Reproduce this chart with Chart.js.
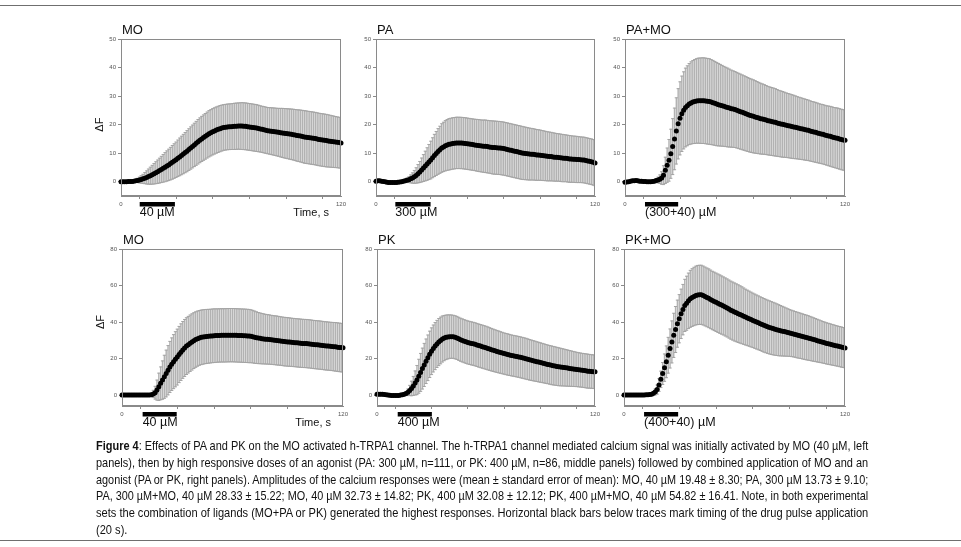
<!DOCTYPE html>
<html>
<head>
<meta charset="utf-8">
<script src="https://cdn.jsdelivr.net/npm/chart.js@4.4.0/dist/chart.umd.min.js"></script>
<style>
    body { margin: 0; background: #fff; width: 961px; height: 547px; position: relative; overflow: hidden; font-family: "Liberation Sans", Arial, sans-serif; }
    .rule { position: absolute; left: 0; width: 961px; height: 1px; background: #6f6f6f; }
    canvas { position: absolute; }
    #caption { position: absolute; left: 96px; top: 438px; width: 772px; font-family: "Liberation Sans", Arial, sans-serif; font-size: 13px; line-height: 16.8px; color: #111; }
    #caption div { height: 16.8px; white-space: nowrap; }
    #caption span { display: inline-block; white-space: nowrap; transform-origin: 0 50%; }
</style>
</head>
<body>
<div class="rule" style="top:5px"></div>
<div class="rule" style="top:540px"></div>

<canvas id="p0"></canvas>
<canvas id="p1"></canvas>
<canvas id="p2"></canvas>
<canvas id="p3"></canvas>
<canvas id="p4"></canvas>
<canvas id="p5"></canvas>

<div id="caption">
    <div><span><b>Figure 4</b>: Effects of PA and PK on the MO activated h-TRPA1 channel. The h-TRPA1 channel mediated calcium signal was initially activated by MO (40 µM, left</span></div>
    <div><span>panels), then by high responsive doses of an agonist (PA: 300 µM, n=111, or PK: 400 µM, n=86, middle panels) followed by combined application of MO and an</span></div>
    <div><span>agonist (PA or PK, right panels). Amplitudes of the calcium responses were (mean ± standard error of mean): MO, 40 µM 19.48 ± 8.30; PA, 300 µM 13.73 ± 9.10;</span></div>
    <div><span>PA, 300 µM+MO, 40 µM 28.33 ± 15.22; MO, 40 µM 32.73 ± 14.82; PK, 400 µM 32.08 ± 12.12; PK, 400 µM+MO, 40 µM 54.82 ± 16.41. Note, in both experimental</span></div>
    <div><span>sets the combination of ligands (MO+PA or PK) generated the highest responses. Horizontal black bars below traces mark timing of the drug pulse application</span></div>
    <div><span class="last">(20 s).</span></div>
</div>

<script>
// Time points (s)
const timeS = [0, 1, 2, 3, 4, 5, 6, 7, 8, 9,
    10, 11, 12, 13, 14, 15, 16, 17, 18, 19,
    20, 21, 22, 23, 24, 25, 26, 27, 28, 29,
    30, 31, 32, 33, 34, 35, 36, 37, 38, 39,
    40, 41, 42, 43, 44, 45, 46, 47, 48, 49,
    50, 51, 52, 53, 54, 55, 56, 57, 58, 59,
    60, 61, 62, 63, 64, 65, 66, 67, 68, 69,
    70, 71, 72, 73, 74, 75, 76, 77, 78, 79,
    80, 81, 82, 83, 84, 85, 86, 87, 88, 89,
    90, 91, 92, 93, 94, 95, 96, 97, 98, 99,
    100, 101, 102, 103, 104, 105, 106, 107, 108, 109,
    110, 111, 112, 113, 114, 115, 116, 117, 118, 119,
    120];

// MO 40 uM (top row)
const moTopMean = [0, 0, 0, 0, 0.05, 0.05, 0.1, 0.2, 0.3, 0.45,
    0.6, 0.8, 1.0, 1.25, 1.5, 1.8, 2.1, 2.45, 2.8, 3.15,
    3.5, 3.9, 4.3, 4.7, 5.1, 5.5, 5.9, 6.35, 6.8, 7.25,
    7.7, 8.2, 8.7, 9.2, 9.7, 10.2, 10.7, 11.25, 11.8, 12.35,
    12.9, 13.45, 14.0, 14.5, 15.0, 15.45, 15.9, 16.35, 16.8, 17.15,
    17.5, 17.8, 18.1, 18.35, 18.6, 18.8, 19.0, 19.1, 19.2, 19.25,
    19.3, 19.35, 19.4, 19.45, 19.5, 19.5, 19.5, 19.45, 19.4, 19.3,
    19.2, 19.1, 19.0, 18.9, 18.8, 18.65, 18.5, 18.35, 18.2, 18.05,
    17.9, 17.8, 17.7, 17.6, 17.5, 17.4, 17.3, 17.2, 17.1, 17.0,
    16.9, 16.8, 16.7, 16.6, 16.5, 16.35, 16.2, 16.1, 16.0, 15.85,
    15.7, 15.6, 15.5, 15.4, 15.3, 15.2, 15.1, 14.95, 14.8, 14.7,
    14.6, 14.5, 14.4, 14.3, 14.2, 14.1, 14.0, 13.9, 13.8, 13.7,
    13.6];
const moTopSem = [0, 0, 0, 0, 0, 0.1, 0.2, 0.35, 0.5, 0.75,
    1.0, 1.3, 1.6, 1.95, 2.3, 2.65, 3.0, 3.3, 3.6, 3.85,
    4.1, 4.35, 4.6, 4.85, 5.1, 5.3, 5.5, 5.7, 5.9, 6.05,
    6.2, 6.4, 6.6, 6.75, 6.9, 7.05, 7.2, 7.3, 7.4, 7.5,
    7.6, 7.7, 7.8, 7.85, 7.9, 7.95, 8.0, 8.05, 8.1, 8.1,
    8.1, 8.1, 8.1, 8.1, 8.1, 8.05, 8.0, 8.0, 8.0, 8.0,
    8.0, 8.05, 8.1, 8.1, 8.1, 8.15, 8.2, 8.2, 8.2, 8.2,
    8.2, 8.2, 8.2, 8.2, 8.2, 8.15, 8.1, 8.1, 8.1, 8.1,
    8.1, 8.15, 8.2, 8.25, 8.3, 8.35, 8.4, 8.5, 8.6, 8.65,
    8.7, 8.75, 8.8, 8.85, 8.9, 8.95, 9.0, 9.05, 9.1, 9.15,
    9.2, 9.2, 9.2, 9.2, 9.2, 9.2, 9.2, 9.2, 9.2, 9.2,
    9.2, 9.2, 9.2, 9.15, 9.1, 9.05, 9.0, 8.95, 8.9, 8.9,
    8.9];

// PA 300 uM
const paMean = [0.2, 0.3, 0.3, 0.2, 0.1, -0.05, -0.2, -0.25, -0.3, -0.3,
    -0.3, -0.25, -0.2, -0.1, 0, 0.15, 0.3, 0.5, 0.7, 1.0,
    1.3, 1.7, 2.2, 2.8, 3.4, 4.1, 4.8, 5.5, 6.2, 6.9,
    7.6, 8.4, 9.2, 9.9, 10.6, 11.2, 11.8, 12.2, 12.6, 12.9,
    13.1, 13.25, 13.4, 13.5, 13.6, 13.6, 13.6, 13.55, 13.5, 13.4,
    13.3, 13.2, 13.1, 13.0, 12.9, 12.8, 12.7, 12.6, 12.5, 12.45,
    12.4, 12.3, 12.2, 12.1, 12.0, 11.95, 11.9, 11.85, 11.8, 11.7,
    11.6, 11.45, 11.3, 11.15, 11.0, 10.85, 10.7, 10.55, 10.4, 10.25,
    10.1, 10.0, 9.9, 9.8, 9.7, 9.65, 9.6, 9.5, 9.4, 9.35,
    9.3, 9.2, 9.1, 9.0, 8.9, 8.85, 8.8, 8.7, 8.6, 8.55,
    8.5, 8.4, 8.3, 8.25, 8.2, 8.1, 8.0, 7.95, 7.9, 7.85,
    7.8, 7.75, 7.7, 7.65, 7.6, 7.45, 7.3, 7.15, 7.0, 6.8,
    6.6];
const paSem = [0, 0, 0, 0, 0, 0, 0, 0, 0, 0,
    0, 0.05, 0.1, 0.2, 0.3, 0.45, 0.6, 0.8, 1.0, 1.4,
    1.8, 2.25, 2.7, 3.2, 3.7, 4.2, 4.7, 5.2, 5.7, 6.15,
    6.6, 7.0, 7.4, 7.7, 8.0, 8.25, 8.5, 8.65, 8.8, 8.9,
    9.0, 9.0, 9.0, 9.0, 9.0, 9.0, 9.0, 9.0, 9.0, 9.0,
    9.0, 9.0, 9.0, 9.0, 9.0, 9.05, 9.1, 9.1, 9.1, 9.15,
    9.2, 9.2, 9.2, 9.25, 9.3, 9.3, 9.3, 9.3, 9.3, 9.3,
    9.3, 9.3, 9.3, 9.3, 9.3, 9.3, 9.3, 9.3, 9.3, 9.3,
    9.3, 9.25, 9.2, 9.15, 9.1, 9.05, 9.0, 8.95, 8.9, 8.85,
    8.8, 8.75, 8.7, 8.65, 8.6, 8.55, 8.5, 8.45, 8.4, 8.35,
    8.3, 8.3, 8.3, 8.25, 8.2, 8.2, 8.2, 8.15, 8.1, 8.1,
    8.1, 8.05, 8.0, 8.0, 8.0, 8.0, 8.0, 8.0, 8.0, 8.0,
    8.0];

// PA + MO
const paMoMean = [-0.2, -0.1, 0.0, 0.15, 0.3, 0.35, 0.4, 0.3, 0.2, 0.15,
    0.1, 0.05, 0.0, 0.0, 0.0, 0.1, 0.2, 0.4, 0.6, 0.9,
    1.3, 2.3, 4.0, 5.8, 7.5, 9.8, 12.3, 15.0, 17.8, 20.3,
    22.2, 23.8, 25.0, 26.0, 26.6, 27.2, 27.6, 27.9, 28.1, 28.3,
    28.4, 28.4, 28.4, 28.4, 28.3, 28.2, 28.1, 27.9, 27.7, 27.45,
    27.2, 27.0, 26.8, 26.6, 26.4, 26.2, 26.0, 25.8, 25.6, 25.45,
    25.3, 25.05, 24.8, 24.55, 24.3, 24.05, 23.8, 23.55, 23.3, 23.1,
    22.9, 22.7, 22.5, 22.3, 22.1, 21.95, 21.8, 21.6, 21.4, 21.25,
    21.1, 20.95, 20.8, 20.6, 20.4, 20.25, 20.1, 19.95, 19.8, 19.65,
    19.5, 19.35, 19.2, 19.05, 18.9, 18.75, 18.6, 18.45, 18.3, 18.15,
    18.0, 17.8, 17.6, 17.45, 17.3, 17.1, 16.9, 16.75, 16.6, 16.4,
    16.2, 16.05, 15.9, 15.7, 15.5, 15.35, 15.2, 15.0, 14.8, 14.65,
    14.5];
const paMoSem = [0, 0, 0, 0, 0, 0, 0, 0, 0, 0,
    0, 0, 0, 0, 0.1, 0.2, 0.4, 0.7, 1.0, 1.5,
    2.2, 3.3, 4.6, 6.0, 7.3, 8.6, 9.8, 10.8, 11.6, 12.3,
    12.8, 13.2, 13.5, 13.8, 14.0, 14.2, 14.4, 14.55, 14.7, 14.8,
    14.9, 14.95, 15.0, 15.0, 15.0, 15.0, 15.0, 14.9, 14.8, 14.7,
    14.6, 14.45, 14.3, 14.15, 14.0, 13.9, 13.8, 13.65, 13.5, 13.4,
    13.3, 13.25, 13.2, 13.15, 13.1, 13.05, 13.0, 12.95, 12.9, 12.85,
    12.8, 12.7, 12.6, 12.5, 12.4, 12.3, 12.2, 12.1, 12.0, 11.95,
    11.9, 11.85, 11.8, 11.7, 11.6, 11.55, 11.5, 11.4, 11.3, 11.25,
    11.2, 11.15, 11.1, 11.0, 10.9, 10.85, 10.8, 10.75, 10.7, 10.65,
    10.6, 10.55, 10.5, 10.5, 10.5, 10.45, 10.4, 10.4, 10.4, 10.4,
    10.4, 10.45, 10.5, 10.5, 10.5, 10.55, 10.6, 10.6, 10.6, 10.6,
    10.6];

// MO 40 uM (bottom row)
const moBotMean = [0, 0, 0, 0, 0, 0, 0, 0, 0, 0,
    0, 0, 0, 0, 0, 0, 0.2, 0.6, 1.3, 2.7,
    4.5, 6.4, 8.2, 10.0, 11.8, 13.6, 15.4, 16.9, 18.3, 19.6,
    20.8, 22.2, 23.5, 24.7, 25.8, 26.8, 27.6, 28.4, 29.1, 29.8,
    30.4, 30.9, 31.3, 31.6, 31.8, 32.0, 32.1, 32.2, 32.3, 32.4,
    32.5, 32.55, 32.6, 32.65, 32.7, 32.7, 32.7, 32.75, 32.8, 32.8,
    32.8, 32.75, 32.7, 32.65, 32.6, 32.55, 32.5, 32.45, 32.4, 32.3,
    32.2, 32.0, 31.7, 31.45, 31.2, 31.05, 30.9, 30.75, 30.6, 30.5,
    30.4, 30.25, 30.1, 30.0, 29.9, 29.75, 29.6, 29.45, 29.3, 29.2,
    29.1, 29.0, 28.9, 28.8, 28.7, 28.6, 28.5, 28.4, 28.3, 28.25,
    28.2, 28.1, 28.0, 27.85, 27.7, 27.6, 27.5, 27.4, 27.3, 27.15,
    27.0, 26.9, 26.8, 26.7, 26.6, 26.5, 26.4, 26.25, 26.1, 26.0,
    25.9];
const moBotSem = [0, 0, 0, 0, 0, 0, 0, 0, 0, 0,
    0, 0, 0, 0, 0, 0.2, 0.8, 2.0, 3.5, 5.5,
    7.5, 9.0, 10.5, 11.8, 12.8, 13.5, 14.0, 14.4, 14.8, 15.1,
    15.3, 15.4, 15.5, 15.55, 15.6, 15.55, 15.5, 15.45, 15.4, 15.3,
    15.2, 15.1, 15.0, 14.95, 14.9, 14.85, 14.8, 14.75, 14.7, 14.7,
    14.7, 14.65, 14.6, 14.6, 14.6, 14.6, 14.6, 14.6, 14.6, 14.6,
    14.6, 14.6, 14.6, 14.6, 14.6, 14.6, 14.6, 14.6, 14.6, 14.6,
    14.5, 14.4, 14.3, 14.15, 14.0, 13.9, 13.8, 13.7, 13.6, 13.55,
    13.5, 13.45, 13.4, 13.4, 13.4, 13.35, 13.3, 13.3, 13.3, 13.3,
    13.3, 13.25, 13.2, 13.2, 13.2, 13.2, 13.2, 13.2, 13.2, 13.2,
    13.2, 13.2, 13.2, 13.2, 13.2, 13.2, 13.2, 13.2, 13.2, 13.2,
    13.2, 13.2, 13.2, 13.2, 13.2, 13.25, 13.3, 13.3, 13.3, 13.3,
    13.3];

// PK 400 uM
const pkMean = [0.5, 0.5, 0.5, 0.4, 0.3, 0.15, 0.0, -0.15, -0.3, -0.3,
    -0.3, -0.25, -0.2, 0.0, 0.2, 0.5, 0.8, 1.5, 2.5, 3.6,
    5.0, 6.6, 8.2, 10.3, 12.4, 14.5, 16.5, 18.5, 20.4, 22.3,
    24.0, 25.5, 26.8, 28.0, 29.0, 29.9, 30.7, 31.2, 31.6, 31.85,
    32.0, 32.0, 31.9, 31.65, 31.3, 30.8, 30.3, 29.9, 29.5, 29.15,
    28.8, 28.55, 28.3, 28.05, 27.8, 27.45, 27.1, 26.8, 26.5, 26.2,
    25.9, 25.55, 25.2, 24.85, 24.5, 24.2, 23.9, 23.6, 23.3, 23.0,
    22.7, 22.45, 22.2, 21.95, 21.7, 21.5, 21.3, 21.1, 20.9, 20.65,
    20.4, 20.15, 19.9, 19.6, 19.3, 19.05, 18.8, 18.55, 18.3, 18.05,
    17.8, 17.55, 17.3, 17.05, 16.8, 16.55, 16.3, 16.1, 15.9, 15.7,
    15.5, 15.35, 15.2, 15.05, 14.9, 14.75, 14.6, 14.45, 14.3, 14.15,
    14.0, 13.85, 13.7, 13.55, 13.4, 13.25, 13.1, 13.0, 12.9, 12.8,
    12.7];
const pkSem = [0, 0, 0, 0, 0, 0, 0, 0, 0, 0,
    0, 0, 0, 0.1, 0.3, 0.6, 1.0, 1.8, 2.8, 4.0,
    5.2, 6.6, 8.0, 9.3, 10.4, 11.2, 11.8, 12.2, 12.5, 12.7,
    12.8, 12.85, 12.9, 12.9, 12.9, 12.8, 12.6, 12.4, 12.2, 12.05,
    11.9, 11.85, 11.8, 11.8, 11.8, 11.8, 11.8, 11.8, 11.8, 11.8,
    11.8, 11.8, 11.8, 11.8, 11.8, 11.8, 11.8, 11.8, 11.8, 11.8,
    11.8, 11.75, 11.7, 11.65, 11.6, 11.55, 11.5, 11.45, 11.4, 11.35,
    11.3, 11.3, 11.3, 11.25, 11.2, 11.2, 11.2, 11.2, 11.2, 11.2,
    11.2, 11.2, 11.2, 11.15, 11.1, 11.05, 11.0, 10.95, 10.9, 10.85,
    10.8, 10.75, 10.7, 10.65, 10.6, 10.6, 10.6, 10.55, 10.5, 10.45,
    10.4, 10.3, 10.2, 10.1, 10.0, 9.9, 9.8, 9.7, 9.6, 9.5,
    9.4, 9.35, 9.3, 9.3, 9.3, 9.3, 9.3, 9.25, 9.2, 9.2,
    9.2];

// PK + MO
const pkMoMean = [0, 0, 0, 0, 0, 0, 0, 0, 0, 0,
    0, 0, 0.1, 0.2, 0.3, 0.5, 1.0, 1.8, 3.0, 5.5,
    8.6, 11.8, 15.0, 18.2, 21.8, 25.5, 29.1, 32.7, 35.9, 39.1,
    41.8, 44.5, 46.8, 49.1, 50.3, 51.6, 52.7, 53.4, 54.0, 54.5,
    54.8, 54.9, 54.9, 54.5, 54.0, 53.5, 53.0, 52.4, 51.8, 51.3,
    50.8, 50.3, 49.8, 49.3, 48.8, 48.25, 47.7, 47.1, 46.5, 46.0,
    45.5, 45.05, 44.6, 44.15, 43.7, 43.2, 42.7, 42.25, 41.8, 41.35,
    40.9, 40.45, 40.0, 39.55, 39.1, 38.65, 38.2, 37.8, 37.4, 37.05,
    36.7, 36.4, 36.1, 35.8, 35.5, 35.25, 35.0, 34.75, 34.5, 34.25,
    34.0, 33.75, 33.5, 33.2, 32.9, 32.65, 32.4, 32.1, 31.8, 31.55,
    31.3, 31.0, 30.7, 30.4, 30.1, 29.8, 29.5, 29.2, 28.9, 28.6,
    28.3, 28.05, 27.8, 27.55, 27.3, 27.05, 26.8, 26.55, 26.3, 26.05,
    25.8];
const pkMoSem = [0, 0, 0, 0, 0, 0, 0, 0, 0, 0,
    0, 0, 0, 0.1, 0.3, 0.6, 1.0, 1.7, 2.5, 3.5,
    4.5, 6.0, 7.5, 8.7, 9.8, 10.7, 11.5, 12.1, 12.6, 12.9,
    13.2, 13.5, 13.8, 14.3, 14.8, 15.2, 15.6, 15.8, 16.0, 16.1,
    16.2, 16.2, 16.2, 16.15, 16.1, 16.1, 16.1, 16.05, 16.0, 16.0,
    16.0, 16.0, 16.0, 15.95, 15.9, 15.9, 15.9, 15.9, 15.9, 15.9,
    15.9, 15.85, 15.8, 15.7, 15.6, 15.45, 15.3, 15.2, 15.1, 15.0,
    14.9, 14.85, 14.8, 14.75, 14.7, 14.7, 14.7, 14.65, 14.6, 14.55,
    14.5, 14.4, 14.3, 14.15, 14.0, 13.8, 13.6, 13.4, 13.2, 13.0,
    12.8, 12.7, 12.6, 12.55, 12.5, 12.45, 12.4, 12.35, 12.3, 12.25,
    12.2, 12.1, 12.0, 11.9, 11.8, 11.7, 11.6, 11.5, 11.4, 11.35,
    11.3, 11.25, 11.2, 11.15, 11.1, 11.05, 11.0, 11.0, 11.0, 10.95,
    10.9];

// Ticks and labels
const yTicksTop = [0, 10, 20, 30, 40, 50];
const yTicksBottom = [0, 20, 40, 60, 80];
const xTicks = [0, 20, 40, 60, 80, 100, 120];
const xTickLabels = ['0', '', '', '', '', '', '120'];
const panelTitles = ['MO', 'PA', 'PA+MO', 'MO', 'PK', 'PK+MO'];
const doseLabels = ['40 µM', '300 µM', '(300+40) µM', '40 µM', '400 µM', '(400+40) µM'];
const pulseStart = [10.2, 10.6, 10.9, 11.2, 11.4, 10.9];
const pulseEnd = [29.4, 29.9, 29.0, 29.7, 30.2, 29.4];

Chart.defaults.font.family = '"Liberation Sans", Arial, sans-serif';

// Panel layout (plot area in page px)
const cells = [
    { left: 121, top: 39, w: 220, h: 157 },
    { left: 376, top: 39, w: 219, h: 157 },
    { left: 625, top: 39, w: 220, h: 157 },
    { left: 122, top: 249, w: 221, h: 157 },
    { left: 377, top: 249, w: 218, h: 157 },
    { left: 624, top: 249, w: 221, h: 157 }
];
const PAD = { left: 40, top: 30, right: 14, bottom: 30, xAxis: 14 };

const panelText = {
    id: 'panelText',
    afterDraw(chart, args, opts) {
        const { ctx, chartArea: a, scales: { x, y } } = chart;
        ctx.save();
        // frame
        ctx.strokeStyle = '#8a8a8a';
        ctx.lineWidth = 1;
        ctx.strokeRect(Math.round(a.left) + 0.5, Math.round(a.top) + 0.5, Math.round(a.right - a.left) - 1, Math.round(a.bottom - a.top) - 1);

        ctx.fillStyle = '#111';
        ctx.textBaseline = 'middle';
        ctx.textAlign = 'left';
        ctx.font = '13px "Liberation Sans", Arial, sans-serif';
        ctx.fillText(opts.title, a.left + 1, a.top - 9);

        // drug pulse bar
        const x0 = x.getPixelForValue(opts.pulse[0]);
        const x1 = x.getPixelForValue(opts.pulse[1]);
        ctx.fillStyle = '#000';
        ctx.fillRect(x0, a.bottom + 6, x1 - x0, 4.5);
        ctx.fillStyle = '#111';
        ctx.font = '12.5px "Liberation Sans", Arial, sans-serif';
        ctx.fillText(opts.dose, x0, a.bottom + 16.5);

        if (opts.leftCol) {
            ctx.font = '11px "Liberation Sans", Arial, sans-serif';
            ctx.textAlign = 'right';
            ctx.fillText('Time, s', a.right - 12, a.bottom + 17);
            ctx.translate(a.left - 21, y.getPixelForValue(opts.labelAt));
            ctx.rotate(-Math.PI / 2);
            ctx.textAlign = 'center';
            ctx.fillText('ΔF', 0, 0);
        }
        ctx.restore();
    }
};

function makePanel(i, mean, sem, yTicks, yMin, yMax, labelAt) {
    const cell = cells[i];
    const canvas = document.getElementById('p' + i);
    canvas.width = cell.w + PAD.left + PAD.right;
    canvas.height = cell.h + PAD.top + PAD.bottom + PAD.xAxis;
    canvas.style.left = (cell.left - PAD.left) + 'px';
    canvas.style.top = (cell.top - PAD.top) + 'px';

    const avg = timeS.map((t, k) => ({ x: t, y: mean[k] }));
    const hi = timeS.map((t, k) => ({ x: t, y: mean[k] + sem[k] }));
    const lo = timeS.map((t, k) => ({ x: t, y: mean[k] - sem[k] }));
    const bars = timeS.map((t, k) => ({ x: t, y: [mean[k] - sem[k], mean[k] + sem[k]] }));

    const capStyle = {
        type: 'line', showLine: false, pointStyle: 'line', pointRadius: 1.6,
        pointBorderColor: '#a4a4a4', pointBorderWidth: 1, order: 1
    };

    new Chart(canvas, {
        type: 'bar',
        data: {
            datasets: [
                { type: 'line', data: avg, showLine: false, pointRadius: 2.5, pointBackgroundColor: '#000', pointBorderWidth: 0, order: 0, clip: 6 },
                Object.assign({ data: hi }, capStyle),
                Object.assign({ data: lo }, capStyle),
                { data: bars, backgroundColor: '#b2b2b2', barThickness: 0.8, grouped: false, borderWidth: 0, order: 2 }
            ]
        },
        options: {
            responsive: false,
            animation: false,
            devicePixelRatio: 1,
            events: [],
            layout: { padding: { left: 0, top: PAD.top, right: PAD.right, bottom: PAD.bottom } },
            plugins: {
                legend: { display: false },
                tooltip: { enabled: false },
                panelText: {
                    title: panelTitles[i], dose: doseLabels[i],
                    pulse: [pulseStart[i], pulseEnd[i]],
                    leftCol: i % 3 === 0, labelAt: labelAt
                }
            },
            scales: {
                x: {
                    type: 'linear', min: 0, max: 120, offset: false,
                    afterBuildTicks: s => { s.ticks = xTicks.map(v => ({ value: v })); },
                    afterFit: s => { s.height = PAD.xAxis; },
                    ticks: { callback: (v, k) => xTickLabels[k], font: { size: 6 }, color: '#555', padding: 2, maxRotation: 0, autoSkip: false },
                    grid: { drawOnChartArea: false, tickLength: 3, color: '#8a8a8a' },
                    border: { color: '#8a8a8a' }
                },
                y: {
                    min: yMin, max: yMax,
                    afterBuildTicks: s => { s.ticks = yTicks.map(v => ({ value: v })); },
                    afterFit: s => { s.width = PAD.left; },
                    ticks: { font: { size: 6 }, color: '#555', padding: 2 },
                    grid: { drawOnChartArea: false, tickLength: 3, color: '#8a8a8a' },
                    border: { color: '#8a8a8a' }
                }
            }
        },
        plugins: [panelText]
    });
}

makePanel(0, moTopMean, moTopSem, yTicksTop, -5, 50, 20);
makePanel(1, paMean, paSem, yTicksTop, -5, 50, 20);
makePanel(2, paMoMean, paMoSem, yTicksTop, -5, 50, 20);
makePanel(3, moBotMean, moBotSem, yTicksBottom, -6, 80, 40);
makePanel(4, pkMean, pkSem, yTicksBottom, -6, 80, 40);
makePanel(5, pkMoMean, pkMoSem, yTicksBottom, -6, 80, 40);

// fit each caption line to the justified width of the original
const capWidth = 772;
const spans = document.querySelectorAll('#caption span');
let scale = 1;
spans.forEach(sp => {
    if (sp.classList.contains('last')) {
        sp.style.transform = 'scaleX(' + scale + ')';
        return;
    }
    scale = capWidth / sp.offsetWidth;
    sp.style.transform = 'scaleX(' + scale + ')';
});
</script>
</body>
</html>
